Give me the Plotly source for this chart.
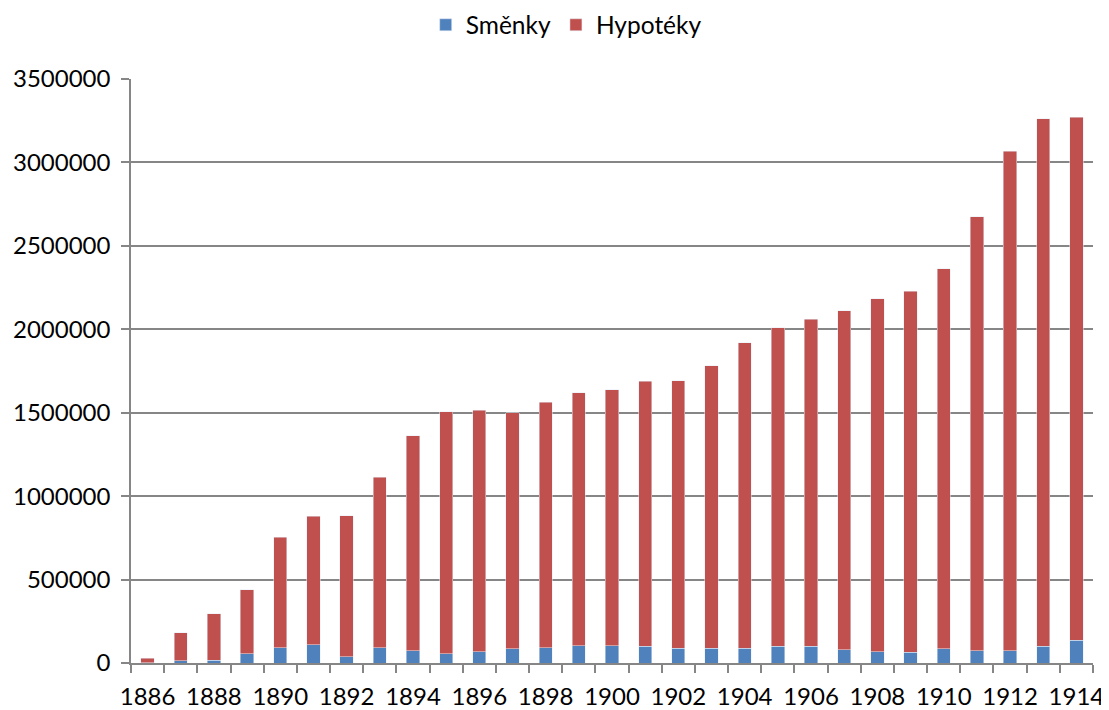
import plotly.graph_objects as go

years = list(range(1886, 1915))
totals = [28000, 181000, 295000, 438000, 753000, 880000, 884000, 1114000, 1363000,
          1506000, 1516000, 1500000, 1562000, 1620000, 1639000, 1689000, 1693000,
          1781000, 1920000, 2010000, 2060000, 2110000, 2182000, 2228000, 2362000,
          2674000, 3066000, 3262000, 3272000]
smenky = [1000, 14000, 18000, 54000, 90000, 108000, 36000, 92000, 74000,
          54000, 68000, 84000, 90000, 102000, 102000, 100000, 88000,
          88000, 88000, 100000, 100000, 78000, 66000, 64000, 84000,
          72000, 72000, 100000, 136000]
hypoteky = [t - s for t, s in zip(totals, smenky)]
label_years = list(range(1886, 1915, 2))
y_ticks = list(range(0, 3500001, 500000))

FONT = "Lato"
fig = go.Figure()
fig.add_trace(go.Bar(x=years, y=smenky, name="Směnky", marker_color="#4F81BD"))
fig.add_trace(go.Bar(x=years, y=hypoteky, name="Hypotéky", marker_color="#C0504D"))

# page body has an 8px margin, so the figure is sized to fit the 1109x710 window
fig.update_layout(
    barmode="stack", bargap=0.6,
    width=1101, height=702,
    margin=dict(l=123, r=16, t=71, b=47, autoexpand=False),
    paper_bgcolor="white", plot_bgcolor="white",
    font=dict(family=FONT, size=24, color="black"),
    legend=dict(orientation="h", xref="container", yref="container",
                x=0.507, y=0.976, xanchor="center", yanchor="middle",
                font=dict(size=24.5), itemwidth=30, traceorder="normal"),
    showlegend=True,
)
fig.update_xaxes(
    range=[1885.5, 1914.5], tickmode="array", tickvals=label_years,
    ticktext=[str(y) for y in label_years],
    ticks="outside", ticklen=8, tickcolor="rgba(0,0,0,0)",
    showline=True, linecolor="#868686", linewidth=1.5, showgrid=False, zeroline=False,
    ticklabelstandoff=3,
    minor=dict(tickmode="array", tickvals=[y - 0.5 for y in years] + [1914.5],
               ticks="outside", ticklen=8, tickcolor="#868686", tickwidth=1.5, showgrid=False),
)
fig.update_yaxes(
    range=[0, 3500000], tickmode="array", tickvals=y_ticks, tickformat="d",
    ticks="outside", ticklen=8, tickcolor="#868686", tickwidth=1.5,
    showline=True, linecolor="#868686", linewidth=1.5,
    showgrid=True, gridcolor="#868686", gridwidth=1.5, zeroline=False,
    ticklabelstandoff=6,
)
fig.write_html("out.html")
